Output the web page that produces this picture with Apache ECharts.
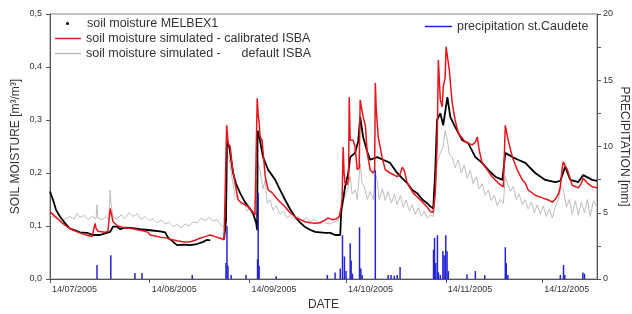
<!DOCTYPE html>
<html>
<head>
<meta charset="utf-8">
<script src="https://cdn.jsdelivr.net/npm/echarts@6/dist/echarts.min.js"></script>
<style>
  html, body { margin: 0; padding: 0; background: #fff; }
  #chart { width: 632px; height: 314px; }
</style>
</head>
<body>
<div id="chart"></div>
<script>
// x values are days counted from 14/07/2005
const tickDays = [0, 31, 62, 92, 123, 153]
const tickLabels = ['14/07/2005', '14/08/2005', '14/09/2005', '14/10/2005', '14/11/2005', '14/12/2005']

// soil moisture MELBEX1 (observed)
const observed = [
  [0, 0.165], [0.9, 0.150], [1.9, 0.130], [3.1, 0.118], [4.7, 0.105], [6.2, 0.095], [7.8, 0.092],
  [9.3, 0.088], [11.5, 0.087], [13.4, 0.083], [15.5, 0.083], [17.1, 0.086], [18.7, 0.089], [19.6, 0.099],
  [20.8, 0.099], [21.8, 0.094], [23.3, 0.097], [25.8, 0.096], [28.0, 0.094], [31.1, 0.092], [34.2, 0.090],
  [35.8, 0.088], [36.7, 0.078], [37.9, 0.072], [39.5, 0.064], [41.7, 0.065], [43.5, 0.064], [45.7, 0.066],
  [47.6, 0.070], [48.8, 0.074], [49.8, 0.073], [52, '-'],
  [54.1, 0.075], [54.7, 0.110], [55.0, 0.260], [55.7, 0.250], [56.9, 0.200], [57.8, 0.180], [59.1, 0.162],
  [60.6, 0.145], [62.2, 0.132], [63.1, 0.124], [64.1, 0.105], [64.4, 0.092], [64.5, 0.280], [65.0, 0.270],
  [66.2, 0.230], [67.8, 0.206], [70.0, 0.187], [71.5, 0.168], [73.1, 0.149], [74.6, 0.132], [76.2, 0.117],
  [77.7, 0.107], [79.3, 0.098], [80.8, 0.093], [82.4, 0.089], [84.0, 0.088], [85.5, 0.087], [87.1, 0.087],
  [88.6, 0.083], [90.2, 0.083], [90.5, 0.126], [91.7, 0.174], [92.7, 0.200], [93.3, 0.230], [94.8, 0.238],
  [95.8, 0.260], [96.4, 0.306], [97.3, 0.268], [98.6, 0.240], [99.5, 0.225], [101.7, 0.230], [103.5, 0.225],
  [105.7, 0.219], [107.9, 0.200], [109.5, 0.190], [111.0, 0.181], [112.6, 0.168], [114.1, 0.162],
  [115.7, 0.150], [117.2, 0.143], [118.2, 0.137], [119.1, 0.133], [119.7, 0.200], [120.3, 0.300],
  [121.3, 0.313], [122.2, 0.290], [123.5, 0.343], [124.4, 0.306], [125.9, 0.287], [128.1, 0.262],
  [130.0, 0.256], [132.2, 0.230], [134.3, 0.219], [136.2, 0.206], [138.4, 0.193], [140.6, 0.187],
  [141.2, 0.185], [141.5, 0.238], [143.7, 0.230], [145.5, 0.225], [147.7, 0.219], [150.8, 0.200],
  [153.9, 0.187], [157.0, 0.183], [158.6, 0.185], [160.1, 0.212], [161.7, 0.187], [164.2, 0.183],
  [165.7, 0.196], [168.5, 0.187], [170, 0.185]
]

// soil moisture simulated - calibrated ISBA
const calibrated = [
  [0, 0.127], [1.2, 0.120], [2.2, 0.115], [3.7, 0.106], [5.3, 0.099], [7.2, 0.092], [9.3, 0.087],
  [11.2, 0.083], [13.1, 0.080], [13.7, 0.081], [14.0, 0.105], [14.3, 0.096], [14.9, 0.090], [15.5, 0.091],
  [17.1, 0.088], [18.0, 0.090], [18.7, 0.133], [19.0, 0.125], [19.6, 0.108], [21.1, 0.100], [22.7, 0.097],
  [23.9, 0.096], [25.8, 0.095], [27.1, 0.093], [28.0, 0.092], [29.5, 0.090], [30.5, 0.088], [31.1, 0.083],
  [32.7, 0.081], [34.2, 0.079], [35.8, 0.078], [37.3, 0.075], [39.5, 0.072], [41.7, 0.070], [43.5, 0.070],
  [45.1, 0.073], [46.6, 0.077], [48.2, 0.080], [49.8, 0.083], [51.3, 0.080], [52.9, 0.077], [54.1, 0.074],
  [54.7, 0.074], [54.9, 0.290], [55.4, 0.255], [56.0, 0.250], [56.6, 0.215], [57.5, 0.181], [58.5, 0.149],
  [59.7, 0.143], [61.6, 0.136], [62.8, 0.128], [63.7, 0.121], [64.2, 0.118], [64.4, 0.341], [64.7, 0.310],
  [65.0, 0.295], [65.3, 0.268], [65.9, 0.262], [66.9, 0.193], [67.8, 0.168], [69.0, 0.163], [70.9, 0.149],
  [73.1, 0.136], [74.6, 0.125], [76.2, 0.117], [77.7, 0.112], [79.3, 0.108], [80.8, 0.106], [82.4, 0.105],
  [84.0, 0.106], [84.6, 0.108], [86.4, 0.115], [87.7, 0.112], [88.9, 0.113], [89.9, 0.118], [90.5, 0.135],
  [90.8, 0.155], [91.1, 0.249], [91.4, 0.200], [91.7, 0.181], [92.4, 0.178], [92.8, 0.190], [93.0, 0.343],
  [93.3, 0.262], [94.2, 0.262], [94.8, 0.250], [95.5, 0.206], [96.1, 0.210], [96.4, 0.338], [97.3, 0.306],
  [98.0, 0.290], [98.6, 0.238], [99.5, 0.206], [100.4, 0.200], [100.9, 0.205], [101.1, 0.370],
  [101.4, 0.320], [102.0, 0.268], [103.2, 0.230], [104.2, 0.206], [105.7, 0.200], [107.9, 0.193],
  [108.8, 0.198], [109.5, 0.211], [110.1, 0.205], [111.0, 0.181], [112.9, 0.162], [115.1, 0.149],
  [117.2, 0.136], [118.2, 0.127], [119.1, 0.126], [119.7, 0.160], [120.3, 0.250], [120.7, 0.413],
  [121.3, 0.338], [121.9, 0.325], [122.2, 0.362], [122.8, 0.380], [123.1, 0.438], [123.5, 0.441],
  [124.1, 0.394], [125.0, 0.332], [125.9, 0.300], [126.9, 0.275], [129.0, 0.259], [131.2, 0.253],
  [132.2, 0.258], [132.8, 0.268], [133.4, 0.243], [134.3, 0.219], [135.9, 0.206], [137.4, 0.193],
  [139.3, 0.181], [140.9, 0.174], [141.2, 0.176], [141.5, 0.290], [142.4, 0.262], [143.7, 0.230],
  [145.2, 0.206], [146.8, 0.187], [147.7, 0.181], [148.6, 0.168], [150.8, 0.158], [153.0, 0.153],
  [154.9, 0.149], [156.1, 0.145], [157.0, 0.150], [158.0, 0.160], [158.6, 0.174], [159.2, 0.210],
  [159.5, 0.221], [160.8, 0.206], [162.3, 0.177], [164.2, 0.172], [165.1, 0.180], [165.7, 0.190],
  [167.0, 0.181], [168.5, 0.174], [170, 0.172]
]

// soil moisture simulated - default ISBA
const defaultIsba = [
  [0, 0.120], [1.6, 0.115], [3.1, 0.111], [4.7, 0.113], [6.2, 0.118], [7.5, 0.113], [8.4, 0.124],
  [9.3, 0.116], [10.6, 0.120], [11.8, 0.112], [13.1, 0.118], [14.3, 0.113], [14.6, 0.140], [14.9, 0.115],
  [16.2, 0.112], [17.4, 0.118], [18.3, 0.112], [18.7, 0.168], [19.0, 0.140], [19.6, 0.118], [20.8, 0.113],
  [22.1, 0.121], [23.3, 0.114], [24.6, 0.125], [25.8, 0.118], [27.1, 0.123], [28.3, 0.112], [29.5, 0.118],
  [30.8, 0.110], [32.0, 0.114], [33.3, 0.106], [34.5, 0.111], [35.8, 0.104], [37.0, 0.107], [38.2, 0.099],
  [39.5, 0.103], [40.7, 0.097], [42.0, 0.104], [43.2, 0.100], [44.5, 0.108], [45.7, 0.106], [47.0, 0.115],
  [48.2, 0.110], [49.4, 0.116], [50.7, 0.109], [51.9, 0.112], [53.2, 0.101], [54.1, 0.099], [54.7, 0.110],
  [55.0, 0.240], [55.7, 0.225], [56.6, 0.190], [57.5, 0.158], [58.5, 0.150], [59.4, 0.140], [60.3, 0.145],
  [61.3, 0.128], [62.2, 0.135], [63.1, 0.120], [64.1, 0.125], [64.4, 0.115], [64.7, 0.220], [65.3, 0.205],
  [66.2, 0.170], [66.9, 0.187], [67.5, 0.143], [68.4, 0.150], [69.3, 0.130], [70.3, 0.138], [71.5, 0.122],
  [72.5, 0.128], [73.7, 0.115], [74.6, 0.120], [75.9, 0.112], [77.1, 0.118], [78.4, 0.110], [79.6, 0.116],
  [80.9, 0.108], [82.1, 0.113], [83.3, 0.106], [84.6, 0.110], [85.8, 0.105], [87.1, 0.104], [88.3, 0.108],
  [89.6, 0.110], [90.8, 0.143], [91.4, 0.140], [92.4, 0.168], [93.3, 0.193], [93.9, 0.160], [94.9, 0.168],
  [95.5, 0.150], [96.4, 0.219], [97.0, 0.180], [97.7, 0.174], [98.6, 0.150], [99.5, 0.165], [100.5, 0.150],
  [101.1, 0.200], [101.7, 0.185], [102.3, 0.150], [103.3, 0.170], [104.2, 0.148], [105.1, 0.165],
  [106.1, 0.143], [107.0, 0.160], [107.9, 0.140], [108.9, 0.158], [109.8, 0.135], [110.7, 0.149],
  [111.7, 0.128], [112.6, 0.140], [113.5, 0.122], [114.5, 0.134], [115.4, 0.118], [116.3, 0.128],
  [117.2, 0.115], [118.2, 0.120], [119.1, 0.118], [119.7, 0.150], [120.3, 0.219], [121.3, 0.238],
  [122.2, 0.250], [122.8, 0.281], [123.5, 0.262], [124.1, 0.235], [125.0, 0.230], [125.9, 0.210],
  [126.9, 0.225], [127.8, 0.200], [128.7, 0.215], [129.7, 0.190], [130.6, 0.205], [131.5, 0.180],
  [132.5, 0.193], [133.4, 0.170], [134.3, 0.180], [135.3, 0.158], [136.2, 0.168], [137.1, 0.148],
  [138.1, 0.158], [139.0, 0.138], [139.9, 0.150], [140.9, 0.143], [141.5, 0.193], [142.1, 0.190],
  [143.1, 0.165], [144.0, 0.175], [144.9, 0.150], [145.8, 0.160], [146.8, 0.140], [147.7, 0.150],
  [148.6, 0.132], [149.6, 0.145], [150.5, 0.125], [151.4, 0.140], [152.4, 0.122], [153.3, 0.138],
  [154.2, 0.118], [155.2, 0.132], [156.1, 0.115], [157.0, 0.135], [158.0, 0.150], [158.9, 0.175],
  [159.5, 0.170], [160.5, 0.135], [161.4, 0.150], [162.3, 0.122], [163.3, 0.148], [164.2, 0.120],
  [165.1, 0.145], [166.1, 0.125], [167.0, 0.150], [167.9, 0.118], [168.9, 0.148], [170, 0.135]
]

// precipitation st.Caudete [mm]
const precipitation = [
  [14.6, 1.05], [18.9, 1.8], [26.4, 0.45], [28.6, 0.45], [44.2, 0.3], [54.7, 1.2], [55.0, 4.0],
  [55.3, 1.0], [56.3, 0.3], [60.9, 0.3], [64.5, 1.5], [64.7, 6.5], [65.0, 1.0], [70.3, 0.2],
  [86.2, 0.3], [88.6, 0.5], [90.2, 0.8], [90.9, 3.3], [91.5, 1.7], [92.0, 0.6], [93.3, 2.7],
  [93.6, 1.4], [94.0, 0.4], [96.2, 3.9], [96.6, 0.8], [97.0, 0.3], [101.1, 8.2], [105.1, 0.3],
  [106.0, 0.3], [107.0, 0.25], [107.9, 0.3], [108.8, 0.9], [119.2, 2.2], [119.5, 3.1], [119.9, 1.2],
  [120.4, 3.3], [120.7, 0.5], [121.3, 0.3], [122.1, 2.1], [122.5, 1.8], [123.0, 3.3], [123.4, 2.1],
  [123.8, 0.6], [129.6, 0.35], [132.2, 0.6], [135.1, 0.3], [141.5, 2.4], [141.8, 1.2], [142.3, 0.3],
  [158.6, 0.3], [159.6, 1.05], [160.0, 0.3], [165.6, 0.5], [166.1, 0.4]
]

const font = "'Liberation Sans', Arial, sans-serif"
const axisColor = '#555'
const textColor = '#333'

const chart = echarts.init(document.getElementById('chart'))

chart.setOption({
  animation: false,
  textStyle: { fontFamily: font },
  grid: {
    left: 50,
    right: 35,
    top: 14,
    bottom: 35,
    show: true,
    borderColor: '#888',
    borderWidth: 1,
    outerBoundsMode: 'none'
  },
  legend: [
    {
      data: [{ name: 'soil moisture MELBEX1', icon: 'circle' }],
      left: 66,
      top: 17,
      padding: 0,
      itemWidth: 3,
      itemHeight: 3,
      textStyle: { fontSize: 12.5, color: textColor, padding: [0, 0, 0, 13] }
    },
    {
      data: [
        { name: 'soil moisture simulated - calibrated ISBA', icon: 'rect' },
        { name: 'soil moisture simulated -      default ISBA', icon: 'rect' }
      ],
      orient: 'vertical',
      left: 55,
      top: 32,
      padding: 0,
      itemGap: 2,
      itemWidth: 26,
      itemHeight: 1.5,
      textStyle: { fontSize: 12.5, color: textColor }
    },
    {
      data: [{ name: 'precipitation st.Caudete', icon: 'rect' }],
      left: 425,
      top: 20,
      padding: 0,
      itemWidth: 27,
      itemHeight: 1.5,
      textStyle: { fontSize: 12.5, color: textColor }
    }
  ],
  xAxis: {
    type: 'value',
    min: 0,
    max: 170,
    name: 'DATE',
    nameLocation: 'middle',
    nameGap: 18,
    nameTextStyle: { fontSize: 12, color: textColor },
    axisLine: { lineStyle: { color: axisColor } },
    axisTick: { customValues: tickDays, length: 4, lineStyle: { color: axisColor } },
    axisLabel: {
      customValues: tickDays,
      formatter: v => tickLabels[tickDays.indexOf(v)],
      align: 'left',
      margin: 6,
      fontSize: 9,
      color: textColor,
      padding: [0, 0, 0, 2]
    },
    splitLine: { show: false }
  },
  yAxis: [
    {
      type: 'value',
      min: 0,
      max: 0.5,
      interval: 0.1,
      name: 'SOIL MOISTURE [m³/m³]',
      nameLocation: 'middle',
      nameGap: 28,
      nameMoveOverlap: false,
      nameTextStyle: { fontSize: 12, color: textColor },
      axisLine: { show: true, lineStyle: { color: axisColor } },
      axisTick: { show: true, length: 4, lineStyle: { color: axisColor } },
      axisLabel: {
        formatter: v => v.toFixed(1).replace('.', ','),
        fontSize: 9,
        margin: 8,
        color: textColor
      },
      splitLine: { show: false }
    },
    {
      type: 'value',
      min: 0,
      max: 20,
      interval: 5,
      position: 'right',
      name: 'PRECIPITATION [mm]',
      nameLocation: 'middle',
      nameRotate: -90,
      nameGap: 21,
      nameMoveOverlap: false,
      nameTextStyle: { fontSize: 12, color: textColor },
      axisLine: { show: true, lineStyle: { color: axisColor } },
      axisTick: { show: true, length: 4, lineStyle: { color: axisColor } },
      minorTick: { show: true, splitNumber: 2, length: 4, lineStyle: { color: axisColor } },
      axisLabel: { fontSize: 9, margin: 6, color: textColor },
      splitLine: { show: false }
    }
  ],
  series: [
    {
      name: 'soil moisture simulated -      default ISBA',
      type: 'line',
      data: defaultIsba,
      symbol: 'none',
      color: '#bdbdbd',
      lineStyle: { width: 1, color: '#bdbdbd' },
      z: 2
    },
    {
      name: 'soil moisture MELBEX1',
      type: 'line',
      data: observed,
      symbol: 'none',
      color: '#000',
      lineStyle: { width: 1.8, color: '#000' },
      z: 3
    },
    {
      name: 'soil moisture simulated - calibrated ISBA',
      type: 'line',
      data: calibrated,
      symbol: 'none',
      color: '#e8141a',
      lineStyle: { width: 1.5, color: '#e8141a' },
      z: 4
    },
    {
      name: 'precipitation st.Caudete',
      type: 'bar',
      yAxisIndex: 1,
      data: precipitation,
      barWidth: 1.5,
      color: '#2424d6',
      itemStyle: { color: '#2424d6' },
      z: 5
    }
  ]
})
</script>
</body>
</html>
